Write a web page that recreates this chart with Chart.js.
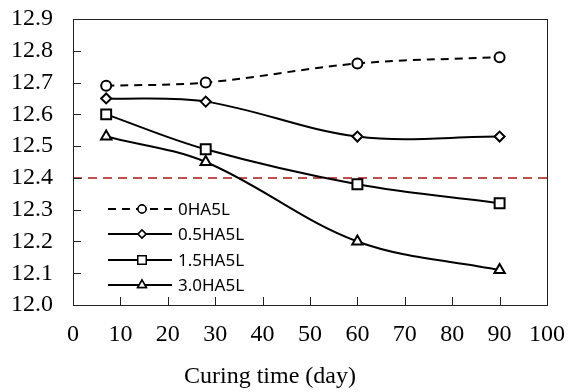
<!DOCTYPE html>
<html lang="en">
<head>
    <meta charset="UTF-8">
    <title>pH vs curing time</title>
    <style>
        html, body { margin: 0; padding: 0; background: #fff; }
        #chartBox { width: 569px; height: 392px; }
    </style>
    <script src="https://cdn.jsdelivr.net/npm/chart.js"></script>
</head>
<body>
    <div id="chartBox"><canvas id="phChart" width="569" height="392"></canvas></div>

    <script>
        // curing time (day)
        const days = [7, 28, 60, 90];
        const series0HA = [12.69, 12.70, 12.76, 12.78];
        const series05HA = [12.65, 12.64, 12.53, 12.53];
        const series15HA = [12.60, 12.49, 12.38, 12.32];
        const series30HA = [12.53, 12.45, 12.20, 12.11];
        const seriesNames = ['0HA5L', '0.5HA5L', '1.5HA5L', '3.0HA5L'];
        // red reference line
        const limitX = [0, 100];
        const limitY = [12.4, 12.4];
        const yTicks = [12.0, 12.1, 12.2, 12.3, 12.4, 12.5, 12.6, 12.7, 12.8, 12.9];
        const xTicks = [0, 10, 20, 30, 40, 50, 60, 70, 80, 90, 100];
        const xTitle = 'Curing time (day)';

        const toPoints = (xs, ys) => xs.map((x, i) => ({ x: x, y: ys[i] }));

        function lineSet(label, ys, style, radius, dash) {
            return {
                label: label,
                data: toPoints(days, ys),
                borderColor: '#000',
                borderWidth: 2,
                borderDash: dash || [],
                tension: 0.35,
                pointStyle: style,
                pointRadius: radius,
                pointBackgroundColor: '#fff',
                pointBorderColor: '#000',
                pointBorderWidth: 2
            };
        }

        const datasets = [
            lineSet(seriesNames[0], series0HA, 'circle', 5, [8, 6]),
            lineSet(seriesNames[1], series05HA, 'rectRot', 5),
            lineSet(seriesNames[2], series15HA, 'rect', 7),
            lineSet(seriesNames[3], series30HA, 'triangle', 6),
            {
                label: 'limit',
                data: toPoints(limitX, limitY),
                borderColor: '#c0504d',
                borderWidth: 2,
                borderDash: [9, 6],
                pointRadius: 0,
                tension: 0
            }
        ];

        const serif = '"Liberation Serif", "Times New Roman", serif';

        // frame + inward tick marks + legend inside the plot + axis title
        const framePlugin = {
            id: 'frame',
            afterDatasetsDraw(chart) {
                const ctx = chart.ctx;
                const a = chart.chartArea;
                const xs = chart.scales.x, ys = chart.scales.y;
                ctx.save();
                ctx.strokeStyle = '#222';
                ctx.lineWidth = 1;
                ctx.setLineDash([]);
                ctx.strokeRect(a.left + 0.5, a.top + 0.5, a.right - a.left, a.bottom - a.top);
                ctx.beginPath();
                yTicks.forEach(v => {
                    const y = Math.round(ys.getPixelForValue(v)) + 0.5;
                    ctx.moveTo(a.left, y);
                    ctx.lineTo(a.left + 8, y);
                });
                xTicks.forEach(v => {
                    const x = Math.round(xs.getPixelForValue(v)) + 0.5;
                    ctx.moveTo(x, a.bottom);
                    ctx.lineTo(x, a.bottom - 8);
                });
                ctx.stroke();

                // legend
                const rows = [209, 234, 260, 285];
                ctx.font = '17px "Noto Sans", "Liberation Sans", sans-serif';
                ctx.textBaseline = 'middle';
                ctx.fillStyle = '#000';
                for (let i = 0; i < 4; i++) {
                    const ds = datasets[i];
                    const y = rows[i];
                    ctx.beginPath();
                    ctx.strokeStyle = '#000';
                    ctx.lineWidth = 2;
                    ctx.setLineDash(ds.borderDash);
                    ctx.moveTo(108, y);
                    ctx.lineTo(172, y);
                    ctx.stroke();
                    ctx.setLineDash([]);
                    ctx.fillStyle = '#fff';
                    ctx.lineWidth = 1.5;
                    Chart.helpers.drawPoint(ctx, {
                        pointStyle: ds.pointStyle,
                        radius: ds.pointRadius - 1,
                        rotation: 0,
                        borderWidth: 1.5
                    }, 142, y);
                    ctx.fill();
                    ctx.stroke();
                    ctx.fillStyle = '#000';
                    ctx.fillText(ds.label, 178, y + 1);
                }

                // x axis title sits left of centre in the original
                ctx.font = '24px ' + serif;
                ctx.textAlign = 'center';
                ctx.fillText(xTitle, 270, 377);
                ctx.restore();
            }
        };

        new Chart(document.getElementById('phChart').getContext('2d'), {
            type: 'line',
            data: { datasets: datasets },
            options: {
                responsive: false,
                animation: false,
                layout: { padding: { left: 0, right: 22, top: 19, bottom: 0 } },
                plugins: { legend: { display: false }, tooltip: { enabled: false } },
                scales: {
                    x: {
                        type: 'linear',
                        min: 0,
                        max: 100,
                        afterBuildTicks: s => { s.ticks = xTicks.map(v => ({ value: v })); },
                        afterFit: s => { s.height = 87; s.paddingLeft = 0; s.paddingRight = 0; },
                        grid: { display: false, drawTicks: false },
                        border: { display: false },
                        ticks: { color: '#000', font: { family: serif, size: 24 }, padding: 15, maxRotation: 0, autoSkip: false }
                    },
                    y: {
                        min: 12.0,
                        max: 12.9,
                        afterBuildTicks: s => { s.ticks = yTicks.map(v => ({ value: v })); },
                        afterFit: s => { s.width = 73; s.paddingTop = 0; s.paddingBottom = 0; },
                        grid: { display: false, drawTicks: false },
                        border: { display: false },
                        ticks: {
                            color: '#000',
                            font: { family: serif, size: 24 },
                            padding: 20,
                            autoSkip: false,
                            callback: v => Number(v).toFixed(1)
                        }
                    }
                }
            },
            plugins: [framePlugin]
        });
    </script>
</body>
</html>
